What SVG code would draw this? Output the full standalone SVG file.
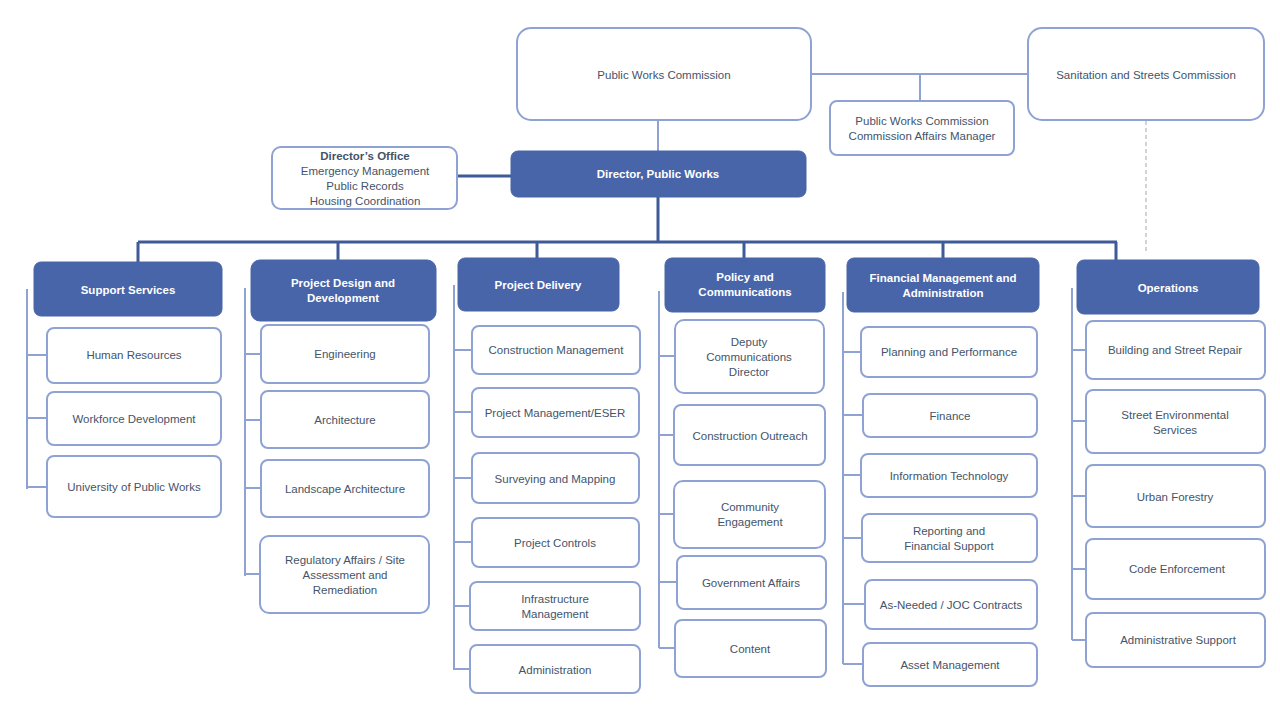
<svg xmlns="http://www.w3.org/2000/svg" width="1280" height="720" viewBox="0 0 1280 720">
<style>
.w{fill:#fff;stroke:#8fa2d4;stroke-width:2}
.d{fill:#4865a9;stroke:#4865a9;stroke-width:1}
text{font-family:"Liberation Sans",Arial,sans-serif;font-size:11.5px;text-anchor:middle}
.t{fill:#44546a}
.h{fill:#fff;font-weight:bold}
.l{stroke:#8fa2d4;stroke-width:2;fill:none}
.k{stroke:#3f5a98;stroke-width:3;fill:none}
</style>
<rect width="1280" height="720" fill="#fff"/>
<g id="connectors">
<path class="l" d="M811 74H1028M920 74V101M658 120V151"/>
<path d="M1146 121V252" stroke="#a6a6a6" stroke-width="1" stroke-dasharray="4 3"/>
<path class="k" d="M457 176H511M658 197V242M138 242H1117M138 242V262M338 242V260M537 242V258M744 242V258M943 242V258M1116 242V260"/>
<path class="l" d="M27 289V489M27 355H47M27 418H47M27 487H47"/>
<path class="l" d="M245 288V576M245 354H261M245 420H261M245 488H261M245 574H260"/>
<path class="l" d="M454 285V670M454 350H472M454 412H472M454 478H472M454 542H472M454 606H470M454 669H470"/>
<path class="l" d="M659 291V648M659 356H675M659 435H674M659 514H674M659 582H677M659 648H675"/>
<path class="l" d="M843 292V664M843 352H861M843 415H863M843 475H861M843 538H862M843 604H865M843 664H863"/>
<path class="l" d="M1072 288V640M1072 350H1086M1072 421H1086M1072 496H1086M1072 569H1086M1072 640H1086"/>
</g>
<g id="pwc"><rect class="w" x="517" y="28" width="294" height="92" rx="14"/><text class="t" x="664" y="79">Public Works Commission</text></g>
<g id="ssc"><rect class="w" x="1028" y="28" width="236" height="92" rx="14"/><text class="t" x="1146" y="79">Sanitation and Streets Commission</text></g>
<g id="cam"><rect class="w" x="830" y="101" width="184" height="54" rx="7"/><text class="t" x="922" y="125">Public Works Commission</text><text class="t" x="922" y="140">Commission Affairs Manager</text></g>
<g id="director"><rect class="d" x="511" y="151" width="295" height="46" rx="7"/><text class="h" x="658" y="178" font-size="12.5">Director, Public Works</text></g>
<g id="dirOffice"><rect class="w" x="272" y="147" width="185" height="62" rx="9"/><text class="t" x="365" y="160" font-weight="bold">Director’s Office</text><text class="t" x="365" y="175">Emergency Management</text><text class="t" x="365" y="190">Public Records</text><text class="t" x="365" y="205">Housing Coordination</text></g>

<g id="h1"><rect class="d" x="34" y="262" width="188" height="54" rx="7"/><text class="h" x="128" y="294">Support Services</text></g>
<g id="h2"><rect class="d" x="251" y="260" width="185" height="61" rx="9"/><text class="h" x="343" y="287">Project Design and</text><text class="h" x="343" y="302">Development</text></g>
<g id="h3"><rect class="d" x="458" y="258" width="161" height="53" rx="7"/><text class="h" x="538" y="289">Project Delivery</text></g>
<g id="h4"><rect class="d" x="665" y="258" width="160" height="54" rx="7"/><text class="h" x="745" y="281">Policy and</text><text class="h" x="745" y="296">Communications</text></g>
<g id="h5"><rect class="d" x="847" y="258" width="192" height="54" rx="7"/><text class="h" x="943" y="282">Financial Management and</text><text class="h" x="943" y="297">Administration</text></g>
<g id="h6"><rect class="d" x="1077" y="260" width="182" height="54" rx="7"/><text class="h" x="1168" y="292">Operations</text></g>

<g id="c1a"><rect class="w" x="47" y="328" width="174" height="55" rx="7"/><text class="t" x="134" y="359">Human Resources</text></g>
<g id="c1b"><rect class="w" x="47" y="392" width="174" height="53" rx="7"/><text class="t" x="134" y="423">Workforce Development</text></g>
<g id="c1c"><rect class="w" x="47" y="456" width="174" height="61" rx="7"/><text class="t" x="134" y="491">University of Public Works</text></g>

<g id="c2a"><rect class="w" x="261" y="325" width="168" height="58" rx="7"/><text class="t" x="345" y="358">Engineering</text></g>
<g id="c2b"><rect class="w" x="261" y="391" width="168" height="57" rx="7"/><text class="t" x="345" y="424">Architecture</text></g>
<g id="c2c"><rect class="w" x="261" y="460" width="168" height="57" rx="7"/><text class="t" x="345" y="493">Landscape Architecture</text></g>
<g id="c2d"><rect class="w" x="260" y="536" width="169" height="77" rx="9"/><text class="t" x="345" y="564">Regulatory Affairs / Site</text><text class="t" x="345" y="579">Assessment and</text><text class="t" x="345" y="594">Remediation</text></g>

<g id="c3a"><rect class="w" x="472" y="326" width="168" height="48" rx="7"/><text class="t" x="556" y="354">Construction Management</text></g>
<g id="c3b"><rect class="w" x="472" y="388" width="167" height="49" rx="7"/><text class="t" x="555" y="417">Project Management/ESER</text></g>
<g id="c3c"><rect class="w" x="472" y="453" width="167" height="50" rx="7"/><text class="t" x="555" y="483">Surveying and Mapping</text></g>
<g id="c3d"><rect class="w" x="472" y="518" width="167" height="49" rx="7"/><text class="t" x="555" y="547">Project Controls</text></g>
<g id="c3e"><rect class="w" x="470" y="582" width="170" height="48" rx="7"/><text class="t" x="555" y="603">Infrastructure</text><text class="t" x="555" y="618">Management</text></g>
<g id="c3f"><rect class="w" x="470" y="645" width="170" height="48" rx="7"/><text class="t" x="555" y="674">Administration</text></g>

<g id="c4a"><rect class="w" x="675" y="320" width="149" height="73" rx="9"/><text class="t" x="749" y="346">Deputy</text><text class="t" x="749" y="361">Communications</text><text class="t" x="749" y="376">Director</text></g>
<g id="c4b"><rect class="w" x="674" y="405" width="151" height="60" rx="7"/><text class="t" x="750" y="440">Construction Outreach</text></g>
<g id="c4c"><rect class="w" x="674" y="481" width="151" height="67" rx="9"/><text class="t" x="750" y="511">Community</text><text class="t" x="750" y="526">Engagement</text></g>
<g id="c4d"><rect class="w" x="677" y="556" width="149" height="53" rx="7"/><text class="t" x="751" y="587">Government Affairs</text></g>
<g id="c4e"><rect class="w" x="675" y="620" width="151" height="57" rx="7"/><text class="t" x="750" y="653">Content</text></g>

<g id="c5a"><rect class="w" x="861" y="327" width="176" height="50" rx="7"/><text class="t" x="949" y="356">Planning and Performance</text></g>
<g id="c5b"><rect class="w" x="863" y="394" width="174" height="43" rx="7"/><text class="t" x="950" y="420">Finance</text></g>
<g id="c5c"><rect class="w" x="861" y="454" width="176" height="43" rx="7"/><text class="t" x="949" y="480">Information Technology</text></g>
<g id="c5d"><rect class="w" x="862" y="514" width="175" height="48" rx="7"/><text class="t" x="949" y="535">Reporting and</text><text class="t" x="949" y="550">Financial Support</text></g>
<g id="c5e"><rect class="w" x="865" y="580" width="172" height="49" rx="7"/><text class="t" x="951" y="609">As-Needed / JOC Contracts</text></g>
<g id="c5f"><rect class="w" x="863" y="643" width="174" height="43" rx="7"/><text class="t" x="950" y="669">Asset Management</text></g>

<g id="c6a"><rect class="w" x="1086" y="321" width="179" height="58" rx="7"/><text class="t" x="1175" y="354">Building and Street Repair</text></g>
<g id="c6b"><rect class="w" x="1086" y="390" width="179" height="63" rx="7"/><text class="t" x="1175" y="419">Street Environmental</text><text class="t" x="1175" y="434">Services</text></g>
<g id="c6c"><rect class="w" x="1086" y="465" width="179" height="62" rx="7"/><text class="t" x="1175" y="501">Urban Forestry</text></g>
<g id="c6d"><rect class="w" x="1086" y="539" width="179" height="60" rx="7"/><text class="t" x="1177" y="573">Code Enforcement</text></g>
<g id="c6e"><rect class="w" x="1086" y="613" width="179" height="54" rx="7"/><text class="t" x="1178" y="644">Administrative Support</text></g>
</svg>
